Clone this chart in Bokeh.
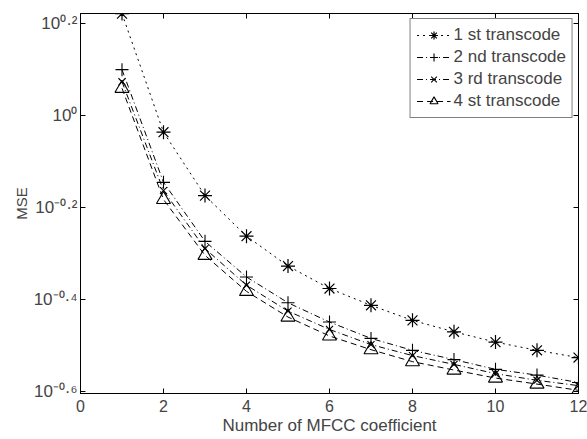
from bokeh.plotting import figure
from bokeh.models import (LogAxis, LinearAxis, FixedTicker, Legend, LegendItem,
                          Range1d, CustomJSTickFormatter)
from bokeh.embed import file_html
from bokeh.resources import INLINE

# ---- data ----
coeffs = [1, 2, 3, 4, 5, 6, 7, 8, 9, 10, 11, 12]
mse_1st = [1.665, 0.920, 0.670, 0.547, 0.471, 0.421, 0.387, 0.359, 0.339, 0.322, 0.309, 0.298]
mse_2nd = [1.258, 0.716, 0.533, 0.446, 0.392, 0.356, 0.328, 0.309, 0.295, 0.281, 0.273, 0.263]
mse_3rd = [1.184, 0.687, 0.514, 0.428, 0.376, 0.343, 0.318, 0.301, 0.288, 0.275, 0.266, 0.259]
mse_4th = [1.146, 0.657, 0.497, 0.415, 0.365, 0.332, 0.310, 0.292, 0.280, 0.269, 0.261, 0.253]
series_labels = ["1 st transcode", "2 nd transcode", "3 rd transcode", "4 st transcode"]
x_ticks = [0, 2, 4, 6, 8, 10, 12]
y_tick_exponents = ["0.2", "0", "-0.2", "-0.4", "-0.6"]
x_label = "Number of MFCC coefficient"
y_label = "MSE"

FONT = "Liberation Sans"
y_ticks = [10 ** float(e) for e in y_tick_exponents]
SUP = str.maketrans("0123456789-.", "⁰¹²³⁴⁵⁶⁷⁸⁹⁻·")
y_tick_labels = ["10" + e.translate(SUP) for e in y_tick_exponents]
BLANK = CustomJSTickFormatter(code="return ''")

p = figure(width=587, height=439, y_axis_type="log",
           x_range=Range1d(0, 12), y_range=Range1d(0.249, 1.666),
           output_backend="svg", toolbar_location=None,
           min_border_left=80, min_border_right=9,
           min_border_top=13, min_border_bottom=46)
p.background_fill_color = "white"
p.border_fill_color = "white"
p.outline_line_color = "black"
p.xgrid.grid_line_color = None
p.ygrid.grid_line_color = None

xa = p.xaxis[0]
xa.ticker = FixedTicker(ticks=x_ticks)
xa.major_tick_in = 5
xa.major_tick_out = 0
xa.minor_tick_line_color = None
xa.major_label_text_font = FONT
xa.major_label_text_font_size = "16px"
xa.major_label_standoff = 6
xa.axis_label = x_label
xa.axis_label_text_font = FONT
xa.axis_label_text_font_size = "17px"
xa.axis_label_text_font_style = "normal"
xa.axis_label_standoff = 1
xa.axis_line_color = "black"

ya = p.yaxis[0]
ya.ticker = FixedTicker(ticks=y_ticks)
ya.formatter = CustomJSTickFormatter(args=dict(labels=y_tick_labels),
                                     code="return labels[index]")
ya.major_label_text_font = FONT
ya.major_label_text_font_size = "17px"
ya.major_label_standoff = 3
ya.major_tick_in = 5
ya.major_tick_out = 0
ya.minor_tick_line_color = None
ya.axis_label = y_label
ya.axis_label_text_font = FONT
ya.axis_label_text_font_size = "15px"
ya.axis_label_text_font_style = "normal"
ya.axis_label_standoff = 1
ya.axis_line_color = "black"

top = LinearAxis(ticker=FixedTicker(ticks=x_ticks), formatter=BLANK,
                 major_label_text_color=None, major_tick_in=5, major_tick_out=0,
                 minor_tick_line_color=None, major_label_standoff=0)
p.add_layout(top, "above")
right = LogAxis(ticker=FixedTicker(ticks=y_ticks), formatter=BLANK,
                major_label_text_color=None, major_tick_in=5, major_tick_out=0,
                minor_tick_line_color=None, major_label_standoff=0)
p.add_layout(right, "right")

styles = [
    (mse_1st, "dotted", "asterisk", 14, "black", 1.2),
    (mse_2nd, "6 3 1 3", "cross", 13, "black", 1.1),
    (mse_3rd, "6 3 1 3", "x", 10, "black", 1.1),
    (mse_4th, "6 4", "triangle", 14, None, 1.1),
]
items = []
for (vals, dash, marker, size, fill, lw), lab in zip(styles, series_labels):
    lr = p.line(coeffs, vals, line_color="black", line_width=1, line_dash=dash)
    sr = p.scatter(coeffs, vals, marker=marker, size=size, line_color="black",
                   fill_color=fill, line_width=lw)
    items.append(LegendItem(label=lab, renderers=[lr, sr]))

legend = Legend(items=items, location="top_right", margin=5, padding=6, spacing=2,
                glyph_width=34, glyph_height=20, label_height=20, label_standoff=3,
                label_text_font=FONT, label_text_font_size="17px",
                border_line_color="black", border_line_width=1,
                background_fill_color="white", background_fill_alpha=1)
p.add_layout(legend)

open("out.html", "w").write(file_html(p, INLINE))
